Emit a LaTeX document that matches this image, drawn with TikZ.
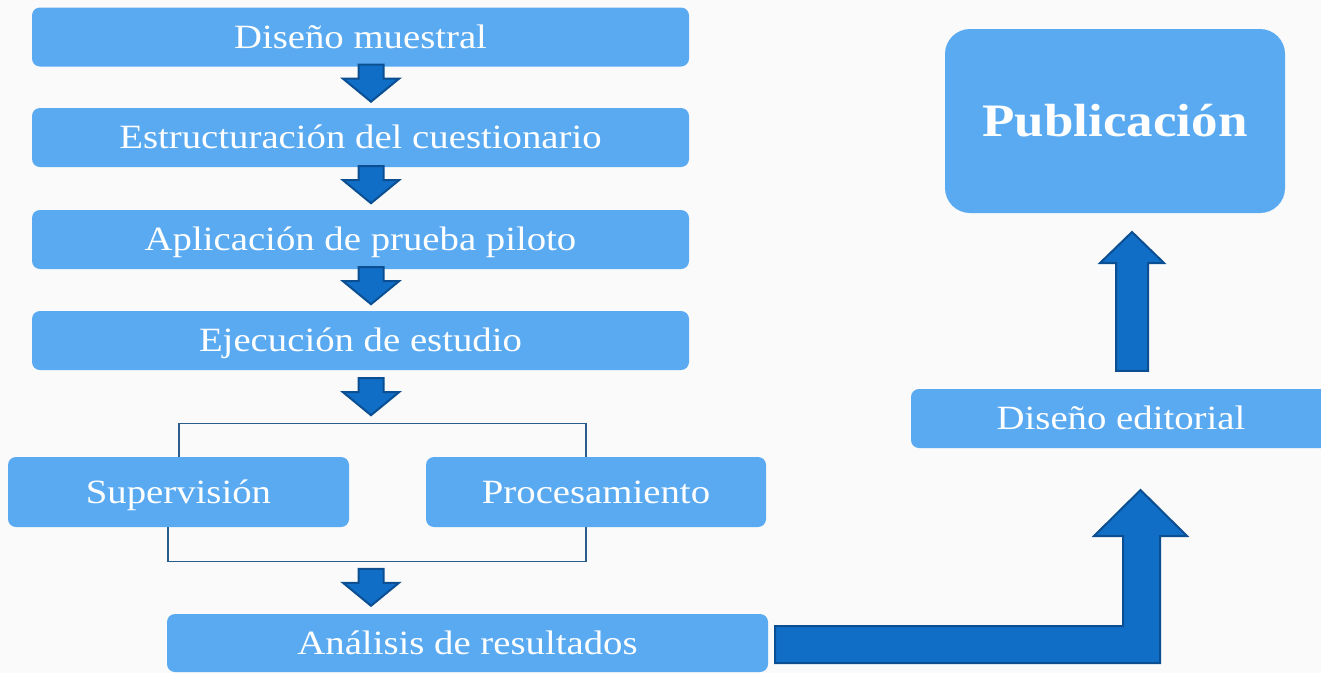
\documentclass[tikz,border=0pt]{standalone}
\usepackage{fontspec}
\setmainfont{Liberation Serif}[FakeStretch=1.14]
\definecolor{bg}{HTML}{FAFAFA}
\definecolor{boxblue}{HTML}{5AAAF2}
\definecolor{arrfill}{HTML}{106EC6}
\definecolor{arredge}{HTML}{0B4F92}
\definecolor{brk}{HTML}{2B5D8C}
\begin{document}
\begin{tikzpicture}[x=1pt,y=-1pt,
  stepbox/.style={fill=boxblue, rounded corners=8pt, text=white, inner sep=0pt,
    font=\fontsize{34}{40}\selectfont, text height=28pt, text depth=5.5pt, minimum height=59pt},
  blockarrow/.style={fill=arrfill, draw=arredge, line width=2pt, line join=miter},
  bracketline/.style={draw=brk, line width=1.3pt},
  darrow/.pic={\path[blockarrow] (-12.5,0) -- (-12.5,14) -- (-28,14) -- (0,37) -- (28,14) -- (12.5,14) -- (12.5,0) -- cycle;}
]
\clip (0,0) rectangle (1321,673);
\fill[bg] (0,0) rectangle (1321,673);
\useasboundingbox (0,0) rectangle (1321,673);

% left column
\node[stepbox, minimum width=657pt] (b1) at (360.5,37) {Diseño muestral};
\node[stepbox, minimum width=657pt] (b2) at (360.5,137.5) {Estructuración del cuestionario};
\node[stepbox, minimum width=657pt] (b3) at (360.5,239.5) {Aplicación de prueba piloto};
\node[stepbox, minimum width=657pt] (b4) at (360.5,340.5) {Ejecución de estudio};
\node[stepbox, minimum width=341pt, minimum height=70pt] (sup) at (178.5,492) {Supervisión};
\node[stepbox, minimum width=340pt, minimum height=70pt] (proc) at (596,492) {Procesamiento};
\node[stepbox, minimum width=601pt, minimum height=58pt] (ana) at (467.5,643) {Análisis de resultados};

% right column
\node[stepbox, minimum width=420pt] (edit) at (1121,418.5) {Diseño editorial};
\node[stepbox, minimum width=340pt, minimum height=184pt, rounded corners=25pt,
  font=\fontsize{46.5}{54}\selectfont\bfseries, text height=36pt, text depth=6pt] (pub) at (1115,121) {Publicación};

% small down arrows
\pic at ([xshift=10.5pt,yshift=2pt]b1.south) {darrow};
\pic at ([xshift=10.5pt,yshift=1pt]b2.south) {darrow};
\pic at ([xshift=10.5pt,yshift=2pt]b3.south) {darrow};
\pic at ([xshift=10.5pt,yshift=-8pt]b4.south) {darrow};
\pic at ([xshift=-96.5pt,yshift=45pt]ana.north) {darrow};

% brackets
\coordinate (tl) at ([xshift=0.5pt]sup.north);
\coordinate (tr) at ([xshift=-10pt]proc.north);
\coordinate (bl) at ([xshift=-10.5pt]sup.south);
\coordinate (br) at ([xshift=-10pt]proc.south);
\draw[bracketline] (tl) -- ++(0,-33) -| (tr);
\draw[bracketline] (bl) -- ++(0,34) -| (br);

% big bent arrow from Análisis to Diseño editorial
\path[blockarrow] ([xshift=7pt,yshift=17pt]ana.east) -- (1123,626) -- (1123,536) -- (1094,536)
  -- (1140.5,490) -- (1187,536) -- (1160,536) -- (1160,663) -- ([xshift=7pt,yshift=-20pt]ana.east) -- cycle;

% up arrow from Diseño editorial to Publicación
\path[blockarrow] ([xshift=-5pt,yshift=18pt]edit.north) -- (1116,263) -- (1100,263) -- (1132,232)
  -- (1164,263) -- (1148,263) -- ([xshift=27pt,yshift=18pt]edit.north) -- cycle;
\end{tikzpicture}
\end{document}
